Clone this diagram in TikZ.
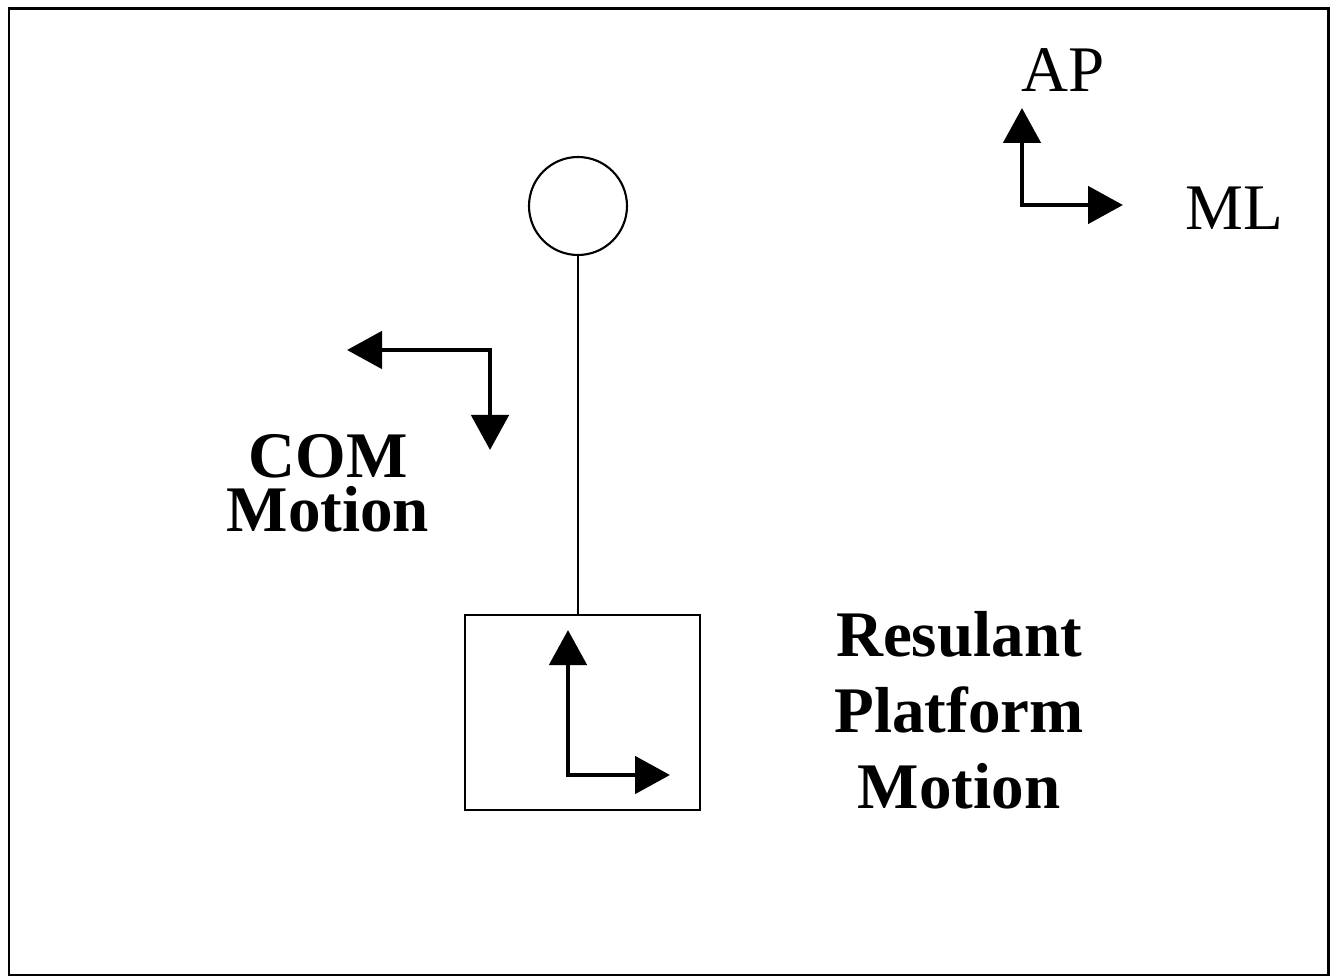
\documentclass[tikz,border=0pt]{standalone}
\usepackage{fontspec}
\setmainfont{Liberation Serif}
\usetikzlibrary{arrows.meta, positioning}

\begin{document}
\begin{tikzpicture}[font=\fontsize{18.5}{21.5}\selectfont,
    mass/.style={draw,circle,minimum size=0.98cm,inner sep=0pt,line width=0.6pt},
    plat/.style={draw,minimum width=2.35cm,minimum height=1.95cm,inner sep=0pt,line width=0.8pt},
    arr/.style={{Triangle[length=3.5mm,width=3.7mm]}-{Triangle[length=3.5mm,width=3.7mm]},line width=1.4pt},
    lbl/.style={anchor=base,align=center,inner sep=0pt}]
    \useasboundingbox (0,0) rectangle (13.39,9.78);
    \draw[line width=0.85pt] (0.09,0.03) rectangle (13.28,9.69);
    % pendulum
    \node[mass] (head) at (5.78,7.72) {};
    \node[plat] (box)  at (5.825,2.655) {};
    \draw[line width=0.7pt] (head.south) -- (head.south |- box.north);
    % axes
    \coordinate (axo) at (10.22,7.73);
    \coordinate (axap) at (10.22,8.70);
    \coordinate (axml) at (11.23,7.73);
    \draw[arr] (axap) -- (axo) -- (axml);
    \node[lbl] (ap) at (10.63,8.86) {AP};
    \node[lbl] (ml) at (12.34,7.48) {ML};
    % COM motion
    \coordinate (como) at (4.90,6.28);
    \coordinate (coml) at (3.47,6.28);
    \coordinate (comd) at (4.90,5.28);
    \draw[arr] (coml) -- (como) -- (comd);
    \node[lbl,font=\fontsize{18.5}{15.6}\selectfont\bfseries] (com) at (3.28,4.46) {COM\\Motion};
    % platform motion
    \coordinate (plo) at (5.68,2.03);
    \coordinate (plap) at (5.68,3.48);
    \coordinate (plml) at (6.70,2.03);
    \draw[arr] (plap) -- (plo) -- (plml);
    \node[lbl,font=\fontsize{18.5}{21.6}\selectfont\bfseries] (res) at (9.59,1.70) {Resulant\\Platform\\Motion};
\end{tikzpicture}
\end{document}
